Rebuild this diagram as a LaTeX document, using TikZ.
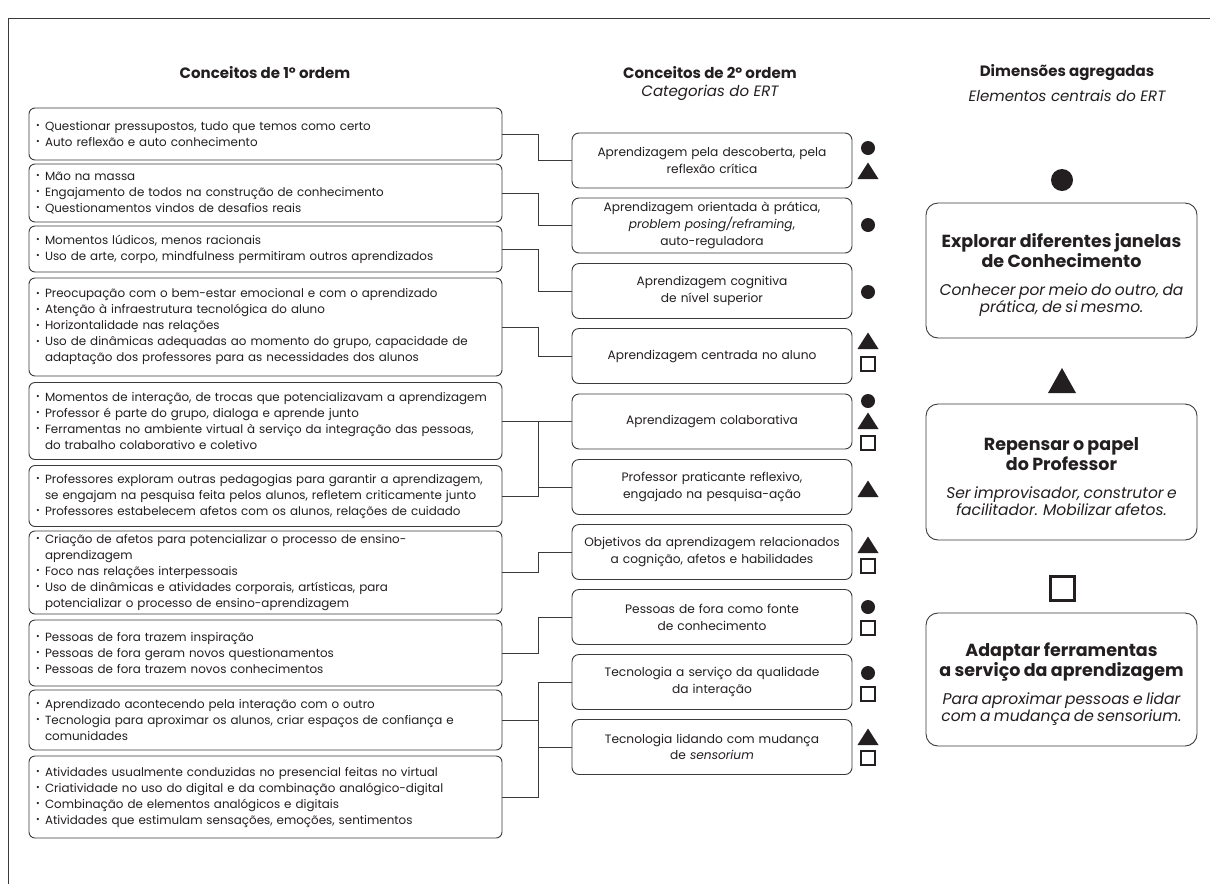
\documentclass[tikz,border=0pt]{standalone}
\usepackage{fontspec}
\setmainfont{Poppins}
\usepackage{graphicx}
\usetikzlibrary{calc}
\definecolor{ink}{HTML}{231F20}
\definecolor{edge}{HTML}{3A3A3A}
\newcommand\bu{\makebox[9pt][l]{\raisebox{0.25ex}{\scalebox{0.75}{•}}}}
\newcommand\hg{\hspace*{9pt}}
\newcommand\stri[2]{\fill[ink] (#1-10.5,#2+8) -- (#1+10.5,#2+8) -- (#1,#2-8.5) -- cycle;}
\tikzset{
  lbox/.style={draw=edge, line width=0.9pt, rounded corners=6pt, minimum width=473pt,
    text width=459pt, inner xsep=7pt, inner ysep=0pt, align=left, text=ink,
    font=\fontsize{11.9}{16}\selectfont},
  mbox/.style={draw=edge, line width=0.9pt, rounded corners=7pt, minimum width=280pt,
    minimum height=55pt, text width=270pt, inner xsep=5pt, align=center, text=ink,
    font=\fontsize{12.2}{16.8}\selectfont},
  rbox/.style={draw=edge, line width=0.9pt, rounded corners=12pt, minimum width=271pt},
  rtext/.style={text width=268pt, align=center, text=ink, inner sep=0pt},
  head/.style={text=ink, align=center, inner sep=0pt, font=\fontsize{15}{20}\selectfont\bfseries},
  headi/.style={text=ink, align=center, inner sep=0pt, font=\fontsize{15}{20}\selectfont\itshape},
  conn/.style={draw=edge, line width=0.9pt},
  dotc/.style={circle, fill=ink, inner sep=0pt, minimum size=14pt},
  sqr/.style={draw=ink, line width=2.2pt, inner sep=0pt, minimum size=14pt},
}
\begin{document}
\begin{tikzpicture}[x=1pt,y=-1pt]
\useasboundingbox (0,0) rectangle (1210,884);
\fill[white] (0,0) rectangle (1210,884);
% frame
\draw[edge, line width=1pt] (8,884) -- (8,18) -- (1210,18);

% headers
\node[head] (h1) at (265,73) {Conceitos de 1º ordem};
\node[head] (h2) at (710,73) {Conceitos de 2º ordem};
\node[headi] (h2b) at (710,93) {Categorias do ERT};
\node[head] (h3) at (1067,73) {Dimensões agregadas};
\node[headi] (h3b) at (1067,96) {Elementos centrais do ERT};

% left boxes
\node[lbox, minimum height=52pt] (B1) at (265.5,134) {\bu Questionar pressupostos, tudo que temos como certo\\\bu Auto reflexão e auto conhecimento};
\node[lbox, minimum height=58pt] (B2) at (265.5,193) {\bu Mão na massa\\\bu Engajamento de todos na construção de conhecimento\\\bu Questionamentos vindos de desafios reais};
\node[lbox, minimum height=46pt] (B3) at (265.5,249) {\bu Momentos lúdicos, menos racionais\\\bu Uso de arte, corpo, mindfulness permitiram outros aprendizados};
\node[lbox, minimum height=98pt] (B4) at (265.5,327) {\bu Preocupação com o bem-estar emocional e com o aprendizado\\\bu Atenção à infraestrutura tecnológica do aluno\\\bu Horizontalidade nas relações\\\bu Uso de dinâmicas adequadas ao momento do grupo, capacidade de\\\hg adaptação dos professores para as necessidades dos alunos};
\node[lbox, minimum height=77pt] (B5) at (265.5,421) {\bu Momentos de interação, de trocas que potencializavam a aprendizagem\\\bu Professor é parte do grupo, dialoga e aprende junto\\\bu Ferramentas no ambiente virtual à serviço da integração das pessoas,\\\hg do trabalho colaborativo e coletivo};
\node[lbox, minimum height=61pt] (B6) at (265.5,496) {\bu Professores exploram outras pedagogias para garantir a aprendizagem,\\\hg se engajam na pesquisa feita pelos alunos, refletem criticamente junto\\\bu Professores estabelecem afetos com os alunos, relações de cuidado};
\node[lbox, minimum height=83pt] (B7) at (265.5,572.5) {\bu Criação de afetos para potencializar o processo de ensino-\\\hg aprendizagem\\\bu Foco nas relações interpessoais\\\bu Uso de dinâmicas e atividades corporais, artísticas, para\\\hg potencializar o processo de ensino-aprendizagem};
\node[lbox, minimum height=66pt] (B8) at (265.5,653) {\bu Pessoas de fora trazem inspiração\\\bu Pessoas de fora geram novos questionamentos\\\bu Pessoas de fora trazem novos conhecimentos};
\node[lbox, minimum height=60pt] (B9) at (265.5,720) {\bu Aprendizado acontecendo pela interação com o outro\\\bu Tecnologia para aproximar os alunos, criar espaços de confiança e\\\hg comunidades};
\node[lbox, minimum height=82pt] (B10) at (265.5,797) {\bu Atividades usualmente conduzidas no presencial feitas no virtual\\\bu Criatividade no uso do digital e da combinação analógico-digital\\\bu Combinação de elementos analógicos e digitais\\\bu Atividades que estimulam sensações, emoções, sentimentos};

% middle boxes
\node[mbox] (M1) at (712,160.5) {Aprendizagem pela descoberta, pela\\reflexão crítica};
\node[mbox] (M2) at (712,225.5) {Aprendizagem orientada à prática,\\\textit{problem posing/reframing},\\auto-reguladora};
\node[mbox] (M3) at (712,291) {Aprendizagem cognitiva\\de nível superior};
\node[mbox] (M4) at (712,356) {Aprendizagem centrada no aluno};
\node[mbox] (M5) at (712,421.5) {Aprendizagem colaborativa};
\node[mbox] (M6) at (712,487) {Professor praticante reflexivo,\\engajado na pesquisa-ação};
\node[mbox] (M7) at (712,552) {Objetivos da aprendizagem relacionados\\a cognição, afetos e habilidades};
\node[mbox] (M8) at (712,617) {Pessoas de fora como fonte\\de conhecimento};
\node[mbox] (M9) at (712,682) {Tecnologia a serviço da qualidade\\da interação};
\node[mbox] (M10) at (712,747) {Tecnologia lidando com mudança\\de \textit{sensorium}};

% connectors
\coordinate (bx) at (538,0);
\draw[conn] (B1.east) -- (B1.east -| bx) |- (M1.west);
\draw[conn] (B2.east) -- (B2.east -| bx) |- (M2.west);
\draw[conn] (B3.east) -- (B3.east -| bx) |- (M3.west);
\draw[conn] (B4.east) -- (B4.east -| bx) |- (M4.west);
\draw[conn] (B5.east) -- (B5.east -| bx) |- (M5.west);
\draw[conn] (B6.east) -- (B6.east -| bx) |- (M6.west);
\draw[conn] (B5.east -| bx) -- (B6.east -| bx);
\draw[conn] (B7.east) -- (B7.east -| bx) |- (M7.west);
\draw[conn] (B8.east) -- (B8.east -| bx) |- (M8.west);
\draw[conn] (B9.east) -- (B9.east -| bx) |- (M9.west);
\draw[conn] (B10.east) -- (B10.east -| bx) |- (M10.west);
\draw[conn] (M9.west -| bx) -- (B10.east -| bx);

% small symbols
\node[dotc] (c1) at (868,148) {};
\stri{868}{171}
\node[dotc] (c2) at (868,225) {};
\node[dotc] (c3) at (868,292) {};
\stri{868}{341}
\node[sqr] (s4) at (868,364) {};
\node[dotc] (c5) at (868,401) {};
\stri{868}{421}
\node[sqr] (s5) at (868,443) {};
\stri{868}{489}
\stri{868}{545}
\node[sqr] (s7) at (868,566) {};
\node[dotc] (c8) at (868,607) {};
\node[sqr] (s8) at (868,628) {};
\node[dotc] (c9) at (868,673) {};
\node[sqr] (s9) at (868,694) {};
\stri{868}{737}
\node[sqr] (s10) at (868,758) {};

% right column
\node[circle, fill=ink, inner sep=0pt, minimum size=22pt] (bigc) at (1062,180) {};
\node[rbox, minimum height=135pt] (R1) at (1061.5,270.5) {};
\node[rtext] (R1t) at (1061.5,275) {\fontsize{17.5}{20}\selectfont\bfseries Explorar diferentes janelas\\de Conhecimento\par\vspace{6pt}\fontsize{15.5}{22}\selectfont\mdseries\itshape Conhecer por meio do outro, da\\prática, de si mesmo.};
\fill[ink] (1048,393) -- (1076,393) -- (1062,368) -- cycle;
\node[rbox, minimum height=136pt] (R2) at (1061.5,472) {};
\node[rtext] (R2t) at (1061.5,477) {\fontsize{17.5}{20}\selectfont\bfseries Repensar o papel\\do Professor\par\vspace{6pt}\fontsize{15.5}{22}\selectfont\mdseries\itshape Ser improvisador, construtor e\\facilitador. Mobilizar afetos.};
\node[draw=ink, line width=3pt, inner sep=0pt, minimum size=24pt] (bigs) at (1062,588) {};
\node[rbox, minimum height=133pt] (R3) at (1061.5,679.5) {};
\node[rtext] (R3t) at (1061.5,684) {\fontsize{17.5}{20}\selectfont\bfseries Adaptar ferramentas\\a serviço da aprendizagem\par\vspace{6pt}\fontsize{15.5}{22}\selectfont\mdseries\itshape Para aproximar pessoas e lidar\\com a mudança de \textit{sensorium}.};
\end{tikzpicture}
\end{document}
